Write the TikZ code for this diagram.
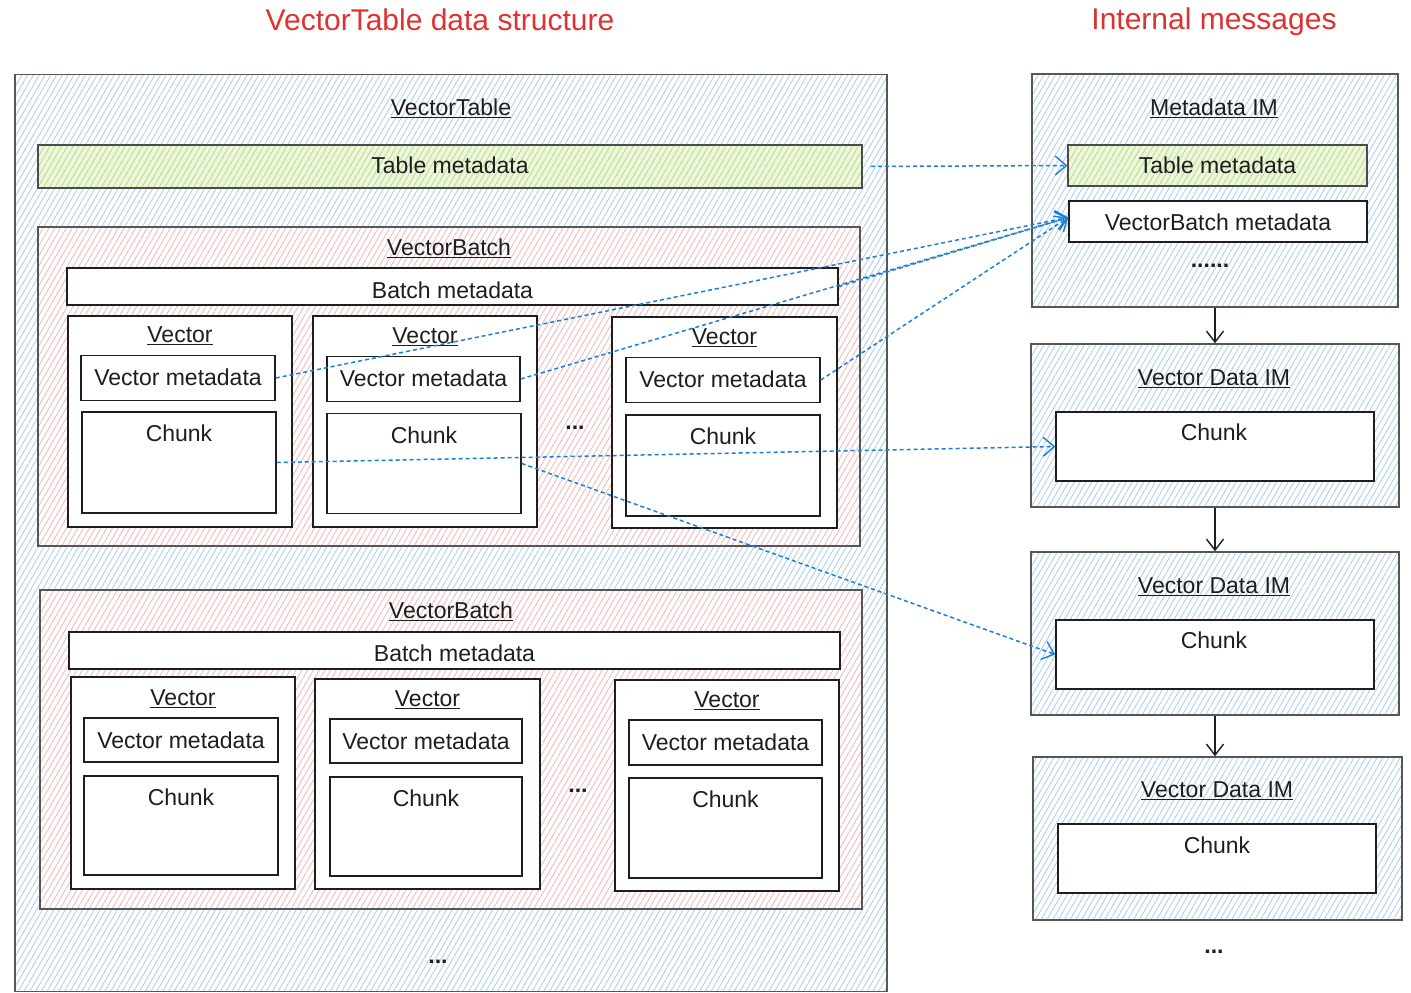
\documentclass[tikz,border=0pt]{standalone}
\usepackage{fontspec}
\setmainfont{Liberation Sans}
\usetikzlibrary{arrows.meta,patterns.meta}
\definecolor{ink}{HTML}{1E1E1E}
\definecolor{hblue}{HTML}{A9CBEE}
\definecolor{hpink}{HTML}{F2B6B6}
\definecolor{hgreen}{HTML}{B6DC84}
\definecolor{fgreen}{HTML}{EEF7DE}
\definecolor{dblue}{HTML}{1C7ED6}
\definecolor{tred}{HTML}{E03131}
\tikzset{
  wh/.style 2 args={minimum width=#1pt, minimum height=#2pt},
  box/.style={draw=ink, line width=1.5pt, inner sep=0pt, rectangle},
  wbox/.style={box, fill=white},
  bluebox/.style={box, draw=ink!75, preaction={fill=white},
    pattern={Lines[angle=60,distance=5pt,line width=0.8pt]}, pattern color=hblue},
  pinkbox/.style={box, draw=ink!75, preaction={fill=white},
    pattern={Lines[angle=60,distance=5pt,line width=0.8pt]}, pattern color=hpink},
  greenbox/.style={box, draw=ink!80, preaction={fill=fgreen},
    pattern={Lines[angle=60,distance=5pt,line width=0.8pt]}, pattern color=hgreen},
  txt/.style={font=\fontsize{23}{27}\selectfont, text=ink, inner sep=0pt},
  dots/.style={font=\fontsize{23}{27}\selectfont\bfseries, text=ink, inner sep=0pt},
  ttl/.style={font=\fontsize{30}{34}\selectfont, text=tred, inner sep=0pt, anchor=base},
  dsh/.style={draw=dblue, line width=1.5pt, dash pattern=on 4pt off 3pt,
    -{Straight Barb[length=11pt,width=19pt,line width=1.4pt]}},
  blk/.style={draw=ink, line width=1.4pt,
    -{Straight Barb[length=11pt,width=17pt,line width=1.4pt]}},
}
\begin{document}
\begin{tikzpicture}[x=1pt,y=-1pt]
\useasboundingbox (0,0) rectangle (1411,993);

% titles
\node[ttl] (t1) at (440,30) {VectorTable data structure};
\node[ttl] (t2) at (1214,29) {Internal messages};

% ---------- left: VectorTable ----------
\node[bluebox, wh={872}{917}] (vt) at (451,533) {};
\node[txt] (vtt) at (451,108) {\underline{VectorTable}};
\node[greenbox, wh={824}{43}] (tmL) at (450,166.5) {};
\node[txt] (tmLt) at (450,165) {Table metadata};

% VectorBatch 1
\node[pinkbox, wh={822}{319}] (vb1) at (449,386.5) {};
\node[txt] (vb1t) at (449,248) {\underline{VectorBatch}};
\node[wbox, wh={771}{37}] (bm1) at (452.5,286.5) {};
\node[txt] (bm1t) at (452.5,290) {Batch metadata};

\node[wbox, wh={224}{211}] (v11) at (180,421.5) {};
\node[wbox, wh={224}{211}] (v12) at (425,421.5) {};
\node[wbox, wh={225}{211}] (v13) at (724.5,422.5) {};
\node[txt] (v11t) at (180,336) {\underline{Vector}};
\node[txt] (v12t) at (425,337) {\underline{Vector}};
\node[txt] (v13t) at (724.5,338) {\underline{Vector}};
\node[wbox, wh={194}{45}] (m11) at (178,378) {};
\node[wbox, wh={193}{45}] (m12) at (423.5,379) {};
\node[wbox, wh={194}{45}] (m13) at (723,380) {};
\node[txt] (m11t) at (178,377) {Vector metadata};
\node[txt] (m12t) at (423.5,378) {Vector metadata};
\node[txt] (m13t) at (723,379) {Vector metadata};
\node[wbox, wh={194}{101}] (c11) at (179,462.5) {};
\node[wbox, wh={194}{100}] (c12) at (424,463.5) {};
\node[wbox, wh={194}{101}] (c13) at (723,465.5) {};
\node[txt] (c11t) at (179,433) {Chunk};
\node[txt] (c12t) at (424,435) {Chunk};
\node[txt] (c13t) at (723,436) {Chunk};
\node[dots] (d1) at (575,428) {...};

% VectorBatch 2
\node[pinkbox, wh={822}{319}] (vb2) at (451,749.5) {};
\node[txt] (vb2t) at (451,611) {\underline{VectorBatch}};
\node[wbox, wh={771}{37}] (bm2) at (454.5,650.5) {};
\node[txt] (bm2t) at (454.5,653) {Batch metadata};

\node[wbox, wh={224}{212}] (v21) at (183,783) {};
\node[wbox, wh={225}{210}] (v22) at (427.5,784) {};
\node[wbox, wh={224}{211}] (v23) at (727,785.5) {};
\node[txt] (v21t) at (183,699) {\underline{Vector}};
\node[txt] (v22t) at (427.5,700) {\underline{Vector}};
\node[txt] (v23t) at (727,701) {\underline{Vector}};
\node[wbox, wh={194}{44}] (m21) at (181,740) {};
\node[wbox, wh={192}{44}] (m22) at (426,741) {};
\node[wbox, wh={193}{45}] (m23) at (725.5,742.5) {};
\node[txt] (m21t) at (181,740) {Vector metadata};
\node[txt] (m22t) at (426,741) {Vector metadata};
\node[txt] (m23t) at (725.5,742) {Vector metadata};
\node[wbox, wh={194}{99}] (c21) at (181,825.5) {};
\node[wbox, wh={192}{99}] (c22) at (426,826.5) {};
\node[wbox, wh={193}{100}] (c23) at (725.5,828) {};
\node[txt] (c21t) at (181,797) {Chunk};
\node[txt] (c22t) at (426,798) {Chunk};
\node[txt] (c23t) at (725.5,799) {Chunk};
\node[dots] (d2) at (578,791) {...};

\node[dots] (d3) at (438,962) {...};

% ---------- right: Internal messages ----------
\node[bluebox, wh={366}{233}] (mim) at (1215,190.5) {};
\node[txt] (mimt) at (1214,108) {\underline{Metadata IM}};
\node[greenbox, wh={299}{41}] (tmR) at (1217.5,165.5) {};
\node[txt] (tmRt) at (1217.5,165) {Table metadata};
\node[wbox, wh={298}{41}] (vbm) at (1218,221.5) {};
\node[txt] (vbmt) at (1218,222) {VectorBatch metadata};
\node[dots] (dR1) at (1210,266) {......};

\node[bluebox, wh={368}{163}] (im1) at (1215,425.5) {};
\node[txt] (im1t) at (1214,379) {\underline{Vector Data IM}};
\node[wbox, wh={318}{69}] (ic1) at (1215,446.5) {};
\node[txt] (ic1t) at (1214,432) {Chunk};

\node[bluebox, wh={368}{163}] (im2) at (1215,633.5) {};
\node[txt] (im2t) at (1214,587) {\underline{Vector Data IM}};
\node[wbox, wh={318}{69}] (ic2) at (1215,654.5) {};
\node[txt] (ic2t) at (1214,640) {Chunk};

\node[bluebox, wh={369}{163}] (im3) at (1217.5,838.5) {};
\node[txt] (im3t) at (1217,791) {\underline{Vector Data IM}};
\node[wbox, wh={318}{69}] (ic3) at (1217,858.5) {};
\node[txt] (ic3t) at (1217,845) {Chunk};
\node[dots] (dR2) at (1214,952) {...};

% black flow arrows
\draw[blk] (mim.south) -- (im1.north);
\draw[blk] (im1.south) -- (im2.north);
\draw[blk] (im2.south) -- (im2.south |- im3.north);

% blue dashed arrows
\draw[dsh, shorten <=8pt] (tmL.east) -- (tmR.west);
\draw[dsh] (m11.east) -- ([yshift=4pt]vbm.west);
\draw[dsh] (m12.east) -- ([yshift=4pt]vbm.west);
\draw[dsh] (m13.east) -- ([yshift=4pt]vbm.west);
\draw[dsh] (bm1.east) -- ([yshift=4pt]vbm.west);
\draw[dsh] (c11.east) -- (ic1.west);
\draw[dsh] (c12.east) -- (ic2.west);
\end{tikzpicture}
\end{document}
